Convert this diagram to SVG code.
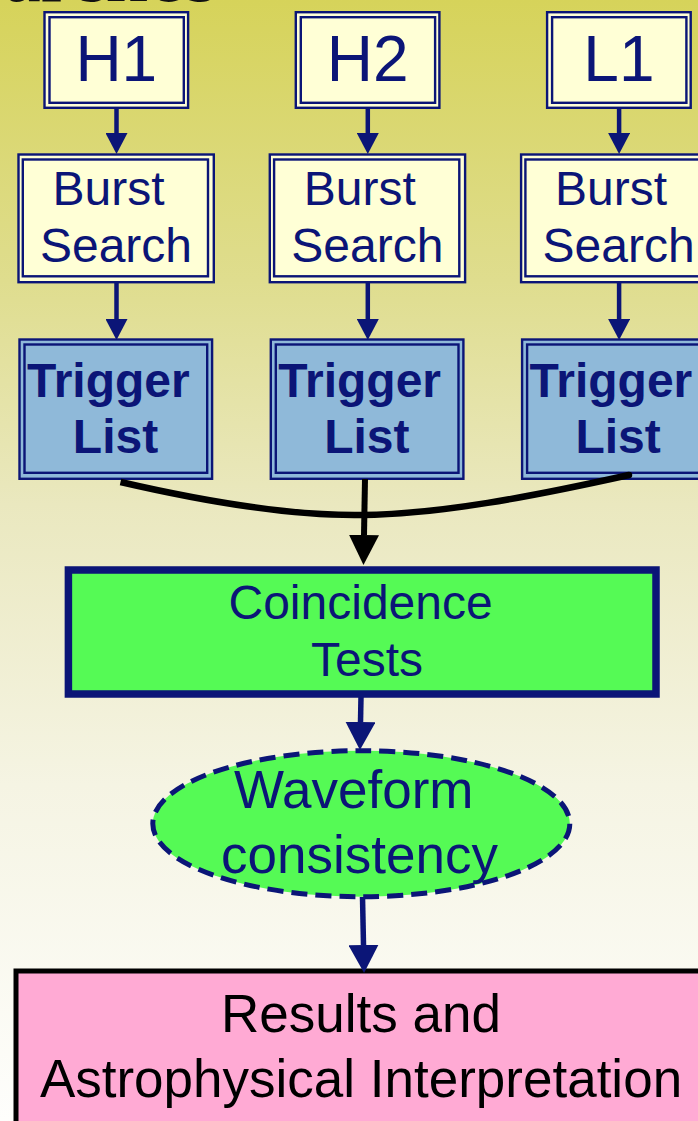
<svg xmlns="http://www.w3.org/2000/svg" width="698" height="1121" viewBox="0 0 698 1121">
  <defs>
    <linearGradient id="bg" x1="0" y1="0" x2="0" y2="1">
      <stop offset="0" stop-color="#d6d35a"/>
      <stop offset="0.25" stop-color="#dfdd8e"/>
      <stop offset="0.45" stop-color="#eae8bf"/>
      <stop offset="0.7" stop-color="#f5f4e3"/>
      <stop offset="1" stop-color="#fefefc"/>
    </linearGradient>
    <!-- arrowheads: reference point is the base, so the shaft ends under it -->
    <marker id="arrowSmall" viewBox="0 0 21 22" refX="0" refY="11" markerWidth="21" markerHeight="22" markerUnits="userSpaceOnUse" orient="auto">
      <path d="M0,0 L21,11 L0,22 z" fill="#0b1577"/>
    </marker>
    <marker id="arrowBig" viewBox="0 0 28 30" refX="0" refY="15" markerWidth="28" markerHeight="30" markerUnits="userSpaceOnUse" orient="auto">
      <path d="M0,0 L28,15 L0,30 z" fill="#0b1577"/>
    </marker>
    <marker id="arrowBlack" viewBox="0 0 30 30" refX="0" refY="15" markerWidth="30" markerHeight="30" markerUnits="userSpaceOnUse" orient="auto">
      <path d="M0,0 L30,15 L0,30 z" fill="#000"/>
    </marker>
  </defs>
  <style>
    .frame { stroke: #0b1577; stroke-width: 2.4; }
    .cream { fill: #ffffd6; }
    .blue { fill: #8fb9d9; }
    .inner { fill: none; stroke: #0b1577; stroke-width: 2.4; }
    .lbl { font-family: "Liberation Sans", Arial, sans-serif; fill: #0b1577; }
    .det { font-size: 64px; text-anchor: middle; }
    .mid { font-size: 48px; }
    .bold { font-weight: bold; }
    .flow { stroke: #0b1577; fill: none; }
  </style>

  <rect x="0" y="0" width="698" height="1121" fill="url(#bg)"/>

  <!-- page title, mostly above the visible area -->
  <text x="218" y="1" text-anchor="end" font-family="'Liberation Serif', serif" font-size="84" fill="#111">Searches</text>

  <!-- detector boxes -->
  <g id="node-h1">
    <rect class="frame cream" x="44.5" y="12.2" width="143.6" height="95.6"/>
    <rect class="inner" x="49.5" y="17.2" width="134.3" height="85.6"/>
    <text class="lbl det" x="116.3" y="81">H1</text>
  </g>
  <g id="node-h2" transform="translate(251.3,0)">
    <rect class="frame cream" x="44.5" y="12.2" width="143.6" height="95.6"/>
    <rect class="inner" x="49.5" y="17.2" width="134.3" height="85.6"/>
    <text class="lbl det" x="116.3" y="81">H2</text>
  </g>
  <g id="node-l1" transform="translate(502.6,0)">
    <rect class="frame cream" x="44.5" y="12.2" width="143.6" height="95.6"/>
    <rect class="inner" x="49.5" y="17.2" width="134.3" height="85.6"/>
    <text class="lbl det" x="116.3" y="81">L1</text>
  </g>

  <!-- burst search boxes -->
  <g id="node-burst-h1">
    <rect class="frame cream" x="18.5" y="154.5" width="195.3" height="127.7"/>
    <rect class="inner" x="22.8" y="159.5" width="185.2" height="116.8"/>
    <text class="lbl mid" x="52.5" y="205">Burst</text>
    <text class="lbl mid" x="116" y="261.7" text-anchor="middle">Search</text>
  </g>
  <g id="node-burst-h2" transform="translate(251.3,0)">
    <rect class="frame cream" x="18.5" y="154.5" width="195.3" height="127.7"/>
    <rect class="inner" x="22.8" y="159.5" width="185.2" height="116.8"/>
    <text class="lbl mid" x="52.5" y="205">Burst</text>
    <text class="lbl mid" x="116" y="261.7" text-anchor="middle">Search</text>
  </g>
  <g id="node-burst-l1" transform="translate(502.6,0)">
    <rect class="frame cream" x="18.5" y="154.5" width="195.3" height="127.7"/>
    <rect class="inner" x="22.8" y="159.5" width="185.2" height="116.8"/>
    <text class="lbl mid" x="52.5" y="205">Burst</text>
    <text class="lbl mid" x="116" y="261.7" text-anchor="middle">Search</text>
  </g>

  <!-- trigger list boxes -->
  <g id="node-trig-h1">
    <rect class="frame blue" x="19.5" y="339.5" width="192.6" height="139.3"/>
    <rect class="inner" x="24.5" y="344.5" width="182.7" height="128.3"/>
    <text class="lbl mid bold" x="27" y="396.7">Trigger</text>
    <text class="lbl mid bold" x="115.5" y="452.7" text-anchor="middle">List</text>
  </g>
  <g id="node-trig-h2" transform="translate(251.3,0)">
    <rect class="frame blue" x="19.5" y="339.5" width="192.6" height="139.3"/>
    <rect class="inner" x="24.5" y="344.5" width="182.7" height="128.3"/>
    <text class="lbl mid bold" x="27" y="396.7">Trigger</text>
    <text class="lbl mid bold" x="115.5" y="452.7" text-anchor="middle">List</text>
  </g>
  <g id="node-trig-l1" transform="translate(502.6,0)">
    <rect class="frame blue" x="19.5" y="339.5" width="192.6" height="139.3"/>
    <rect class="inner" x="24.5" y="344.5" width="182.7" height="128.3"/>
    <text class="lbl mid bold" x="27" y="396.7">Trigger</text>
    <text class="lbl mid bold" x="115.5" y="452.7" text-anchor="middle">List</text>
  </g>

  <!-- coincidence stage -->
  <g id="node-coincidence">
    <rect x="68.4" y="570" width="587.6" height="124" fill="#55fa55" stroke="#0b1577" stroke-width="7.5"/>
    <text class="lbl mid" x="360.6" y="619" text-anchor="middle">Coincidence</text>
    <text class="lbl mid" x="367" y="676" text-anchor="middle">Tests</text>
  </g>

  <!-- waveform consistency check -->
  <g id="node-waveform">
    <ellipse cx="361.3" cy="823.7" rx="208.5" ry="73" fill="#55fa55" stroke="#0b1577" stroke-width="5" stroke-dasharray="16 8"/>
    <text class="lbl" font-size="53" x="234" y="808">Waveform</text>
    <text class="lbl" font-size="53" x="221" y="872.7">consistency</text>
  </g>

  <!-- final results -->
  <g id="node-results">
    <rect x="16" y="971" width="720" height="200" fill="#ffaad4" stroke="#000" stroke-width="5"/>
    <text font-family="Liberation Sans, Arial, sans-serif" font-size="53" fill="#000" text-anchor="middle" x="361" y="1032">Results and</text>
    <text font-family="Liberation Sans, Arial, sans-serif" font-size="53" fill="#000" text-anchor="middle" x="361" y="1097">Astrophysical Interpretation</text>
  </g>

  <g id="connectors">
    <!-- detector to burst search -->
    <line class="flow" stroke-width="4.5" x1="116.5" y1="108" x2="116.5" y2="133" marker-end="url(#arrowSmall)"/>
    <line class="flow" stroke-width="4.5" x1="367.8" y1="108" x2="367.8" y2="133" marker-end="url(#arrowSmall)"/>
    <line class="flow" stroke-width="4.5" x1="619.1" y1="108" x2="619.1" y2="133" marker-end="url(#arrowSmall)"/>
    <!-- burst search to trigger list -->
    <line class="flow" stroke-width="4.5" x1="116.5" y1="282" x2="116.5" y2="319" marker-end="url(#arrowSmall)"/>
    <line class="flow" stroke-width="4.5" x1="367.8" y1="282" x2="367.8" y2="319" marker-end="url(#arrowSmall)"/>
    <line class="flow" stroke-width="4.5" x1="619.1" y1="282" x2="619.1" y2="319" marker-end="url(#arrowSmall)"/>
    <!-- trigger lists merged into coincidence -->
    <path d="M120.5,482 C220,505 300,516 362,515 C440,514 530,497 629,475" fill="none" stroke="#000" stroke-width="6.5"/>
    <circle cx="629" cy="475" r="3.25" fill="#000"/>
    <line x1="365" y1="479" x2="364" y2="535" stroke="#000" stroke-width="6" marker-end="url(#arrowBlack)"/>
    <!-- coincidence to waveform -->
    <line class="flow" stroke-width="5.5" x1="361" y1="697" x2="360.5" y2="722" marker-end="url(#arrowBig)"/>
    <!-- waveform to results -->
    <line class="flow" stroke-width="5.5" x1="362.5" y1="897" x2="363.5" y2="945" marker-end="url(#arrowBig)"/>
  </g>
</svg>
